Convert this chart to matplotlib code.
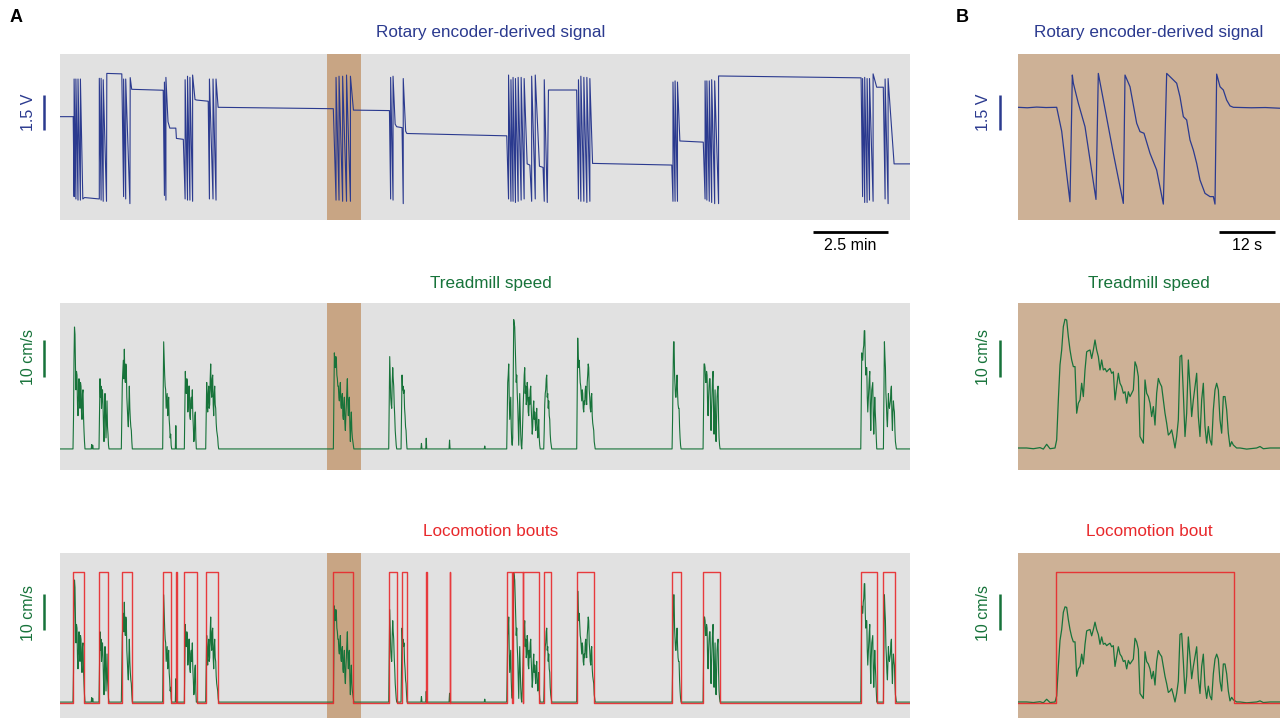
import matplotlib.pyplot as plt
import matplotlib.transforms as mtransforms
import numpy as np

plt.rcParams['font.family'] = ['Liberation Sans', 'DejaVu Sans']

# colours
blue = '#2b3a8f'
green = '#17733a'
red = '#e8282b'
grey_bg = '#e1e1e1'
tan_hl = '#c8a584'
tan_bg = '#cdb196'

# ---------------- data ----------------
# panel A, rotary encoder signal (minutes, volts) - vertices of the trace
enc_a_t = [0.0, 0.44,
           0.47, 0.47, 0.53, 0.53, 0.60, 0.60, 0.68, 0.68, 0.76, 0.82, 1.31,
           1.31, 1.37, 1.37, 1.44, 1.44, 1.55, 1.56, 2.06,
           2.12, 2.12, 2.19, 2.19, 2.33, 2.34, 2.39, 3.44,
           3.48, 3.48, 3.53, 3.53, 3.60, 3.66, 3.86, 3.88, 4.11,
           4.17, 4.17, 4.25, 4.25, 4.33, 4.33, 4.42, 4.42, 4.50, 4.56, 4.94,
           4.98, 4.98, 5.10, 5.10, 5.20, 5.20, 5.27, 9.11,
           9.20, 9.20, 9.30, 9.30, 9.42, 9.42, 9.55, 9.55, 9.68, 9.68, 9.78, 10.98,
           11.02, 11.02, 11.10, 11.10, 11.17, 11.22, 11.40, 11.44, 11.44, 11.52, 11.56, 14.89,
           14.95, 14.95, 15.03, 15.03, 15.10, 15.10, 15.18, 15.18, 15.27, 15.27, 15.37, 15.37,
           15.47, 15.47, 15.57, 15.66, 15.72, 15.72, 15.84, 15.84, 15.98, 16.10, 16.14, 16.14,
           16.24, 16.28, 17.22,
           17.28, 17.28, 17.36, 17.36, 17.46, 17.46, 17.56, 17.56, 17.66, 17.66, 17.75, 17.80, 20.39,
           20.43, 20.43, 20.50, 20.50, 20.58, 20.58, 20.66, 21.44,
           21.50, 21.50, 21.56, 21.56, 21.64, 21.64, 21.72, 21.72, 21.82, 21.82, 21.95, 21.95, 26.70,
           26.75, 26.75, 26.82, 26.82, 26.90, 26.90, 26.98, 26.98, 27.10, 27.10, 27.22, 27.44,
           27.50, 27.50, 27.60, 27.60, 27.80, 28.36]
enc_a_v = [3.72, 3.72,
           0.30, 5.33, 0.20, 5.33, 0.15, 5.33, 0.15, 5.33, 0.20, 0.26, 0.20,
           5.36, 0.15, 5.36, 0.10, 5.30, 0.10, 5.57, 5.55,
           0.30, 5.33, 0.20, 5.33, 0.00, 5.39, 4.89, 4.85,
           0.35, 5.20, 0.15, 5.40, 3.50, 3.23, 3.23, 2.79, 2.75,
           0.20, 5.30, 0.15, 5.45, 0.15, 5.40, 0.10, 5.50, 4.45, 4.43, 4.38,
           0.20, 5.33, 0.20, 5.33, 0.15, 5.33, 4.12, 4.06,
           0.15, 5.40, 0.15, 5.45, 0.10, 5.45, 0.10, 5.50, 0.10, 5.45, 4.00, 3.98,
           0.20, 5.40, 0.15, 5.45, 3.40, 3.29, 3.25, 0.00, 5.35, 3.10, 3.00, 2.90,
           0.20, 5.50, 0.10, 5.30, 0.10, 5.40, 0.05, 5.35, 0.10, 5.40, 0.15, 5.40,
           0.20, 5.35, 1.70, 1.65, 0.10, 5.45, 0.20, 5.50, 1.60, 1.55, 0.10, 5.30,
           0.05, 4.86, 4.86,
           0.20, 5.30, 0.10, 5.45, 0.10, 5.40, 0.05, 5.40, 0.10, 5.35, 1.72, 1.72, 1.65,
           0.10, 5.20, 0.10, 5.25, 0.10, 5.20, 2.68, 2.63,
           0.20, 5.25, 0.15, 5.25, 0.10, 5.25, 0.05, 5.30, 0.00, 5.25, 0.00, 5.46, 5.38,
           0.30, 5.35, 0.05, 5.40, 0.05, 5.35, 0.15, 5.35, 0.10, 5.55, 4.98, 4.98,
           0.20, 5.33, 0.00, 5.35, 1.70, 1.70]

# panel A, treadmill speed (cm/s): bursts sampled every second, baseline 0 between them
burst_start = [0.433, 1.04, 1.30, 2.044, 3.422, 3.844, 4.144, 4.856, 9.111, 10.956,
               11.367, 12.03, 12.19, 12.967, 14.14, 14.889, 17.222, 20.40, 21.433,
               26.689, 27.444]
burst_vals = [
    [0, 8, 24, 33, 31, 22, 16, 21, 20, 12, 9, 14, 19, 13, 11, 18, 17, 10, 8, 15, 16, 9, 5, 2, 0],
    [0, 1.2, 0, 1.0, 0],
    [0, 10, 19, 14, 17, 11, 14, 16, 12, 6, 2, 10, 15, 9, 3, 8, 13, 6, 4, 1, 0],
    [0, 9, 18, 21, 24, 19, 27, 20, 18, 23, 22, 14, 11, 8, 6, 12, 17, 11, 8, 6, 5, 2, 0],
    [0, 15, 29, 24, 20, 17, 16, 11, 13, 15, 9, 12, 14, 8, 6, 3, 4, 1, 0],
    [0, 6.3, 0],
    [0, 11, 21, 16, 15, 19, 18, 10, 12, 17, 17, 9, 8, 13, 14, 11, 16, 9, 6, 2, 3, 9, 10, 3, 0],
    [0, 9, 18, 12, 10, 15, 17, 11, 12, 19, 23, 16, 14, 19, 20, 12, 9, 15, 17, 12, 11, 7, 5,
     4, 3, 1, 0],
    [0, 14, 26, 23, 22, 25, 24, 20, 19, 17, 17, 14, 13, 16, 18, 12, 11, 14, 15, 9, 8, 12,
     14, 7, 5, 9, 12, 16, 19, 12, 9, 13, 14, 6, 2, 7, 10, 5, 3, 2, 1, 0, 0],
    [0, 12, 25, 19, 14, 12, 11, 18, 22, 19, 17, 12, 9, 5, 3, 1, 0],
    [0, 10, 20, 16, 17, 15, 16, 11, 9, 6, 5, 2, 0],
    [0, 1.5, 0],
    [0, 2.9, 0],
    [0, 2.4, 0],
    [0, 0.8, 0],
    [0, 9, 18, 20, 23, 14, 8, 11, 14, 6, 2, 1, 3, 20, 35, 34, 33, 28, 24, 18,
     20, 15, 12, 6, 1, 8, 15, 9, 4, 1, 0, 3, 8, 12, 16, 20, 22, 15, 17, 12,
     13, 18, 16, 10, 9, 14, 12, 16, 17, 11, 8, 4, 6, 11, 13, 8, 10, 7, 5, 9,
     11, 6, 3, 5, 8, 3, 1, 0, 0, 0, 0, 0, 0, 0, 0, 5, 12, 15, 16, 19,
     20, 14, 15, 11, 13, 9, 8, 4, 2, 1, 0],
    [0, 15, 30, 25, 22, 24, 21, 18, 17, 15, 13, 16, 15, 11, 10, 13, 12, 16, 17, 13, 12, 18,
     20, 23, 22, 16, 14, 11, 10, 14, 15, 9, 7, 6, 5, 2, 1, 0, 0],
    [0, 8, 20, 29, 29, 20, 17, 14, 14, 18, 20, 15, 12, 11, 11, 6, 3, 1, 0],
    [0, 12, 23, 23, 22, 18, 18, 21, 20, 12, 9, 14, 17, 19, 19, 10, 5, 11, 15, 19, 21, 10,
     4, 10, 16, 8, 2, 8, 14, 16, 17, 8, 3, 1, 0],
    [0, 14, 26, 25, 24, 27, 28, 32, 32, 24, 20, 22, 22, 14, 10, 13, 16, 19, 21, 11, 5, 12,
     16, 17, 18, 9, 4, 9, 14, 10, 7, 3, 0],
    [0, 15, 29, 25, 22, 15, 12, 8, 6, 11, 15, 12, 11, 12, 13, 16, 17, 9, 5, 10, 13, 11, 10,
     5, 2, 1, 0],
]
speed_step_a = 1 / 60  # minutes between samples

# panel A, locomotion bouts (start, end) in minutes
bouts_a = [(0.444, 0.811), (1.30, 1.61), (2.06, 2.39), (3.42, 3.71), (3.86, 3.91),
           (4.14, 4.56), (4.86, 5.28), (9.11, 9.78), (10.97, 11.22), (11.39, 11.57),
           (12.215, 12.225), (12.995, 13.005), (14.91, 15.06), (15.09, 15.42),
           (15.44, 15.98), (16.13, 16.36), (17.22, 17.81), (20.41, 20.69),
           (21.43, 22.0), (26.70, 27.22), (27.44, 27.84)]
highlight_a = (8.91, 10.02)
t_end_a = 28.36

# panel B, rotary encoder (seconds, volts)
enc_b_t = [0.0, 2.0, 4.0, 6.0, 8.29, 9.36, 10.29, 11.14, 11.64, 11.86, 12.93, 14.36,
           15.43, 16.71, 17.21, 18.29, 20.43, 22.57, 22.93, 24.0, 25.43, 26.14, 27.0,
           28.29, 29.71, 31.14, 31.86, 34.0, 34.71, 35.43, 36.14, 36.86, 37.57, 38.29,
           39.0, 40.07, 41.14, 41.86, 42.21, 42.57, 43.29, 44.0, 44.71, 45.43, 46.14,
           50.0, 53.0, 56.14]
enc_b_v = [4.12, 4.10, 4.13, 4.11, 4.12, 3.10, 1.50, 0.08, 5.50, 5.15, 4.29, 3.29,
           1.87, 0.18, 5.57, 4.43, 2.15, 0.01, 5.50, 5.00, 3.44, 3.08, 3.01,
           2.15, 1.44, -0.02, 5.57, 5.15, 4.57, 3.72, 3.58, 2.72, 2.29, 1.72,
           1.01, 0.44, 0.30, 0.30, -0.02, 5.54, 5.00, 4.86, 4.43, 4.18, 4.12,
           4.10, 4.11, 4.08]

# panel B, treadmill speed (seconds, cm/s)
speed_b_pre_t = [0.0, 1.86, 3.29, 4.71, 5.43, 6.14, 6.86]
speed_b_pre_v = [0.0, 0.0, -0.2, 0.1, -0.3, 1.0, -0.2]
speed_b_run = [0.0, 2.2, 13.0, 22.5, 26.5, 32.8, 34.8, 34.6, 30.1, 26.5, 23.8, 22.0,
               22.0, 9.4, 12.1, 13.0, 17.5, 13.9, 21.1, 26.0, 26.3, 26.5, 24.2, 26.5,
               29.2, 26.5, 24.7, 21.1, 23.8, 21.1, 21.5, 20.6, 21.1, 21.5, 20.2, 20.6,
               13.0, 16.6, 20.2, 17.5, 16.6, 14.8, 15.2, 12.1, 15.2, 13.9, 14.8, 15.7,
               23.3, 22.0, 19.3, 3.1, 2.2, 1.3, 18.4, 14.8, 13.9, 12.1, 8.5, 11.2,
               6.2, 14.8, 18.8, 17.5, 16.6, 13.0, 9.4, 6.7, 3.5, 4.0, 4.9, 2.6,
               0.0, 3.1, 7.6, 24.7, 25.1, 14.8, 3.1, 9.4, 23.8, 16.6, 8.5, 13.0,
               16.6, 20.2, 8.5, 3.1, 13.0, 17.5, 5.8, 1.3, 5.8, 2.2, 0.8, 10.3,
               15.7, 17.5, 15.7, 7.6, 4.0, 13.9, 13.9, 10.3, 4.0, 0.4, 1.7, 0.8]
speed_b_run_span = (7.93, 46.14)
speed_b_post_t = [46.85, 47.57, 49.0, 51.14, 51.86, 52.57, 54.0, 56.14]
speed_b_post_v = [0.0, 0.0, -0.3, 0.0, 0.4, -0.2, 0.0, 0.0]
bout_b = (8.14, 46.36)
t_end_b = 56.14

# ---------------- build series ----------------
order = np.argsort(burst_start)
speed_a_t, speed_a_v = [0.0], [0.0]
for i in order:
    for k, v in enumerate(burst_vals[i]):
        speed_a_t.append(burst_start[i] + k * speed_step_a)
        speed_a_v.append(v)
speed_a_t.append(t_end_a)
speed_a_v.append(0.0)


def bout_trace(bouts, t_end):
    bt, bv = [0.0], [0.0]
    for s, e in bouts:
        bt += [s, s, e, e]
        bv += [0, 1, 1, 0]
    bt.append(t_end)
    bv.append(0)
    return bt, bv


bout_a_t, bout_a_v = bout_trace(bouts_a, t_end_a)
bout_b_t, bout_b_v = bout_trace([bout_b], t_end_b)

run_t = np.linspace(speed_b_run_span[0], speed_b_run_span[1], len(speed_b_run))
speed_b_t = speed_b_pre_t + list(run_t) + speed_b_post_t
speed_b_v = speed_b_pre_v + speed_b_run + speed_b_post_v

# ---------------- figure ----------------
W, H = 1280, 718
fig = plt.figure(figsize=(W / 100, H / 100), dpi=100)


def px_axes(x0, y0, x1, y1):
    ax = fig.add_axes([x0 / W, 1 - y1 / H, (x1 - x0) / W, (y1 - y0) / H])
    ax.set_xticks([])
    ax.set_yticks([])
    for s in ax.spines.values():
        s.set_visible(False)
    return ax


def vbar(ax, x, y0, y1, color, label, lx, ly):
    ax.plot([x, x], [y0, y1], transform=ax.transAxes, color=color, lw=1.8,
            clip_on=False, solid_capstyle='butt')
    ax.text(lx, ly, label, transform=ax.transAxes, rotation=90, ha='center',
            va='center', color=color, fontsize=11.5)


def hbar(ax, x0, x1, label):
    tr = mtransforms.blended_transform_factory(ax.transData, ax.transAxes)
    ax.plot([x0, x1], [-0.072, -0.072], transform=tr, color='black', lw=2,
            clip_on=False, solid_capstyle='butt')
    ax.text((x0 + x1) / 2, -0.155, label, transform=tr, ha='center', va='center',
            fontsize=11.5)


def bout_axis(ax):
    tw = ax.twinx()
    tw.set_yticks([])
    for s in tw.spines.values():
        s.set_visible(False)
    tw.set_ylim(-0.115, 1.145)
    return tw


rows = [(54, 220), (303, 470), (553, 718)]
ax_a = [px_axes(60, r0, 910, r1) for r0, r1 in rows]
ax_b = [px_axes(1018, r0, 1280, r1) for r0, r1 in rows]

for ax in ax_a:
    ax.set_facecolor(grey_bg)
    ax.axvspan(*highlight_a, color=tan_hl, lw=0, zorder=0)
    ax.set_xlim(0, 28.33)
for ax in ax_b:
    ax.set_facecolor(tan_bg)
    ax.set_xlim(0, t_end_b)

# A
ax_a[0].plot(enc_a_t, enc_a_v, color=blue, lw=0.8)
ax_a[0].set_ylim(-0.7, 6.40)
ax_a[1].plot(speed_a_t, speed_a_v, color=green, lw=0.8)
ax_a[1].set_ylim(-5.7, 39.5)
ax_a[2].plot(speed_a_t, speed_a_v, color=green, lw=0.8)
ax_a[2].set_ylim(-4.3, 40.3)
tw = bout_axis(ax_a[2])
tw.plot(bout_a_t, bout_a_v, color=red, lw=1.0, alpha=0.9)

# B
ax_b[0].plot(enc_b_t, enc_b_v, color=blue, lw=0.9)
ax_b[0].set_ylim(-0.7, 6.40)
ax_b[1].plot(speed_b_t, speed_b_v, color=green, lw=0.9)
ax_b[1].set_ylim(-5.95, 39.2)
ax_b[2].plot(speed_b_t, speed_b_v, color=green, lw=0.9)
ax_b[2].set_ylim(-5.86, 54.5)
tw = bout_axis(ax_b[2])
tw.plot(bout_b_t, bout_b_v, color=red, lw=1.0, alpha=0.9)

# scale bars
for axs, xb, xl in ((ax_a, -0.0188, -0.0376), (ax_b, -0.0687, -0.132)):
    vbar(axs[0], xb, 0.542, 0.753, blue, '1.5 V', xl, 0.65)
    vbar(axs[1], xb, 0.557, 0.778, green, '10 cm/s', xl, 0.677)
    vbar(axs[2], xb, 0.533, 0.752, green, '10 cm/s', xl, 0.639)
hbar(ax_a[0], 25.1, 27.6, '2.5 min')
hbar(ax_b[0], 43.07, 55.07, '12 s')

# titles
titles = [('Rotary encoder-derived signal', 'Rotary encoder-derived signal', 33, blue),
          ('Treadmill speed', 'Treadmill speed', 283, green),
          ('Locomotion bouts', 'Locomotion bout', 532, red)]
for ta, tb, y, c in titles:
    fig.text(491 / W, 1 - y / H, ta, ha='center', va='center', color=c, fontsize=12.3)
    fig.text(1149 / W, 1 - y / H, tb, ha='center', va='center', color=c, fontsize=12.3)

fig.text(16 / W, 1 - 18 / H, 'A', ha='center', va='center', fontsize=13, fontweight='bold')
fig.text(962 / W, 1 - 18 / H, 'B', ha='center', va='center', fontsize=13, fontweight='bold')

fig.savefig('out.png', dpi=100)
